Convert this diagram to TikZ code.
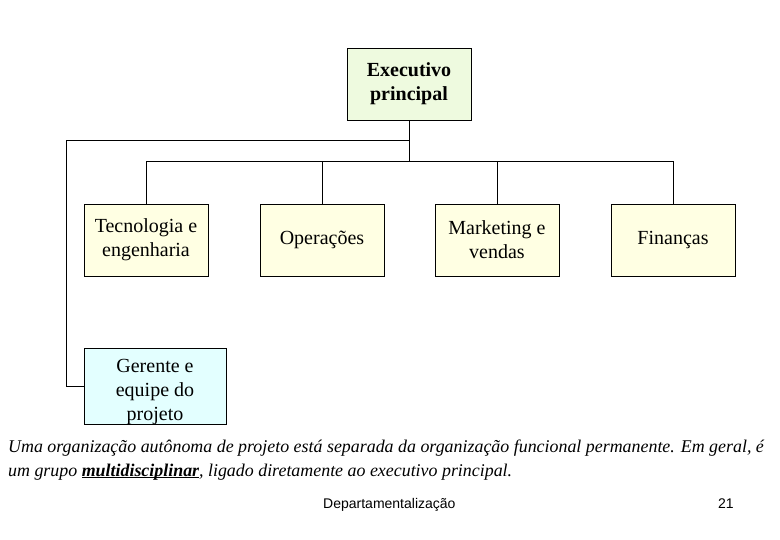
\documentclass[tikz,border=0pt]{standalone}
\usepackage{fontspec}
\setmainfont{Liberation Serif}
\setsansfont{Liberation Sans}
\newcommand{\thickul}[1]{\setbox0=\hbox{#1}\rlap{\rule[-2.2pt]{\wd0}{1.6pt}}\box0}
\begin{document}
\begin{tikzpicture}[x=1pt,y=-1pt,
  box/.style={draw=black,line width=0.9pt,minimum width=124pt,minimum height=72pt,align=center,inner sep=0pt,
    font=\fontsize{20}{24}\selectfont},
  dept/.style={box,fill=yellowfill},
  conn/.style={draw=black,line width=1pt},
  captxt/.style={anchor=base west,inner sep=0pt,font=\fontsize{17.9}{24}\selectfont\itshape},
  foottxt/.style={anchor=base west,inner sep=0pt,font=\fontsize{14}{16}\sffamily}]
\definecolor{yellowfill}{HTML}{FFFFE3}
\definecolor{greenfill}{HTML}{EEFADF}
\definecolor{cyanfill}{HTML}{E3FFFF}
\useasboundingbox[fill=white] (0,0) rectangle (780,540);
\node[box,fill=greenfill,font=\fontsize{20}{24}\selectfont\bfseries] (exec) at (409,84) {Executivo\\principal};
\node[dept] (tec) at (146,240) {Tecnologia e\\engenharia};
\node[dept] (ope) at (322,240) {Operações};
\node[dept] (mkt) at (497,240) {Marketing e\\vendas};
\node[dept] (fin) at (673,240) {Finanças};
\node[box,fill=cyanfill,minimum width=142pt,minimum height=76pt] (ger) at (155,386.5) {};
\node[align=center,inner sep=0pt,font=\fontsize{20}{24}\selectfont] (gertxt) at (155,392) {Gerente e\\equipe do\\projeto};
\coordinate (bus) at (409,162);
\coordinate (top) at (409,141);
\coordinate (lt) at (66,141);
\draw[conn] (exec.south) -- (bus);
\draw[conn] (tec.north) |- (bus);
\draw[conn] (ope.north) |- (bus);
\draw[conn] (mkt.north) |- (bus);
\draw[conn] (fin.north) |- (bus);
\draw[conn] (top) -- (lt) |- (ger.west);
\node[captxt] (cap1) at (8,452)
  {Uma organização autônoma de projeto está separada da organização funcional permanente. Em geral, é};
\node[captxt] (cap2) at (8,476)
  {um grupo \thickul{\textbf{multidisciplinar}}, ligado diretamente ao executivo principal.};
\node[foottxt] (foot) at (323,508) {Departamentalização};
\node[foottxt] (page) at (718,508) {21};
\end{tikzpicture}
\end{document}
